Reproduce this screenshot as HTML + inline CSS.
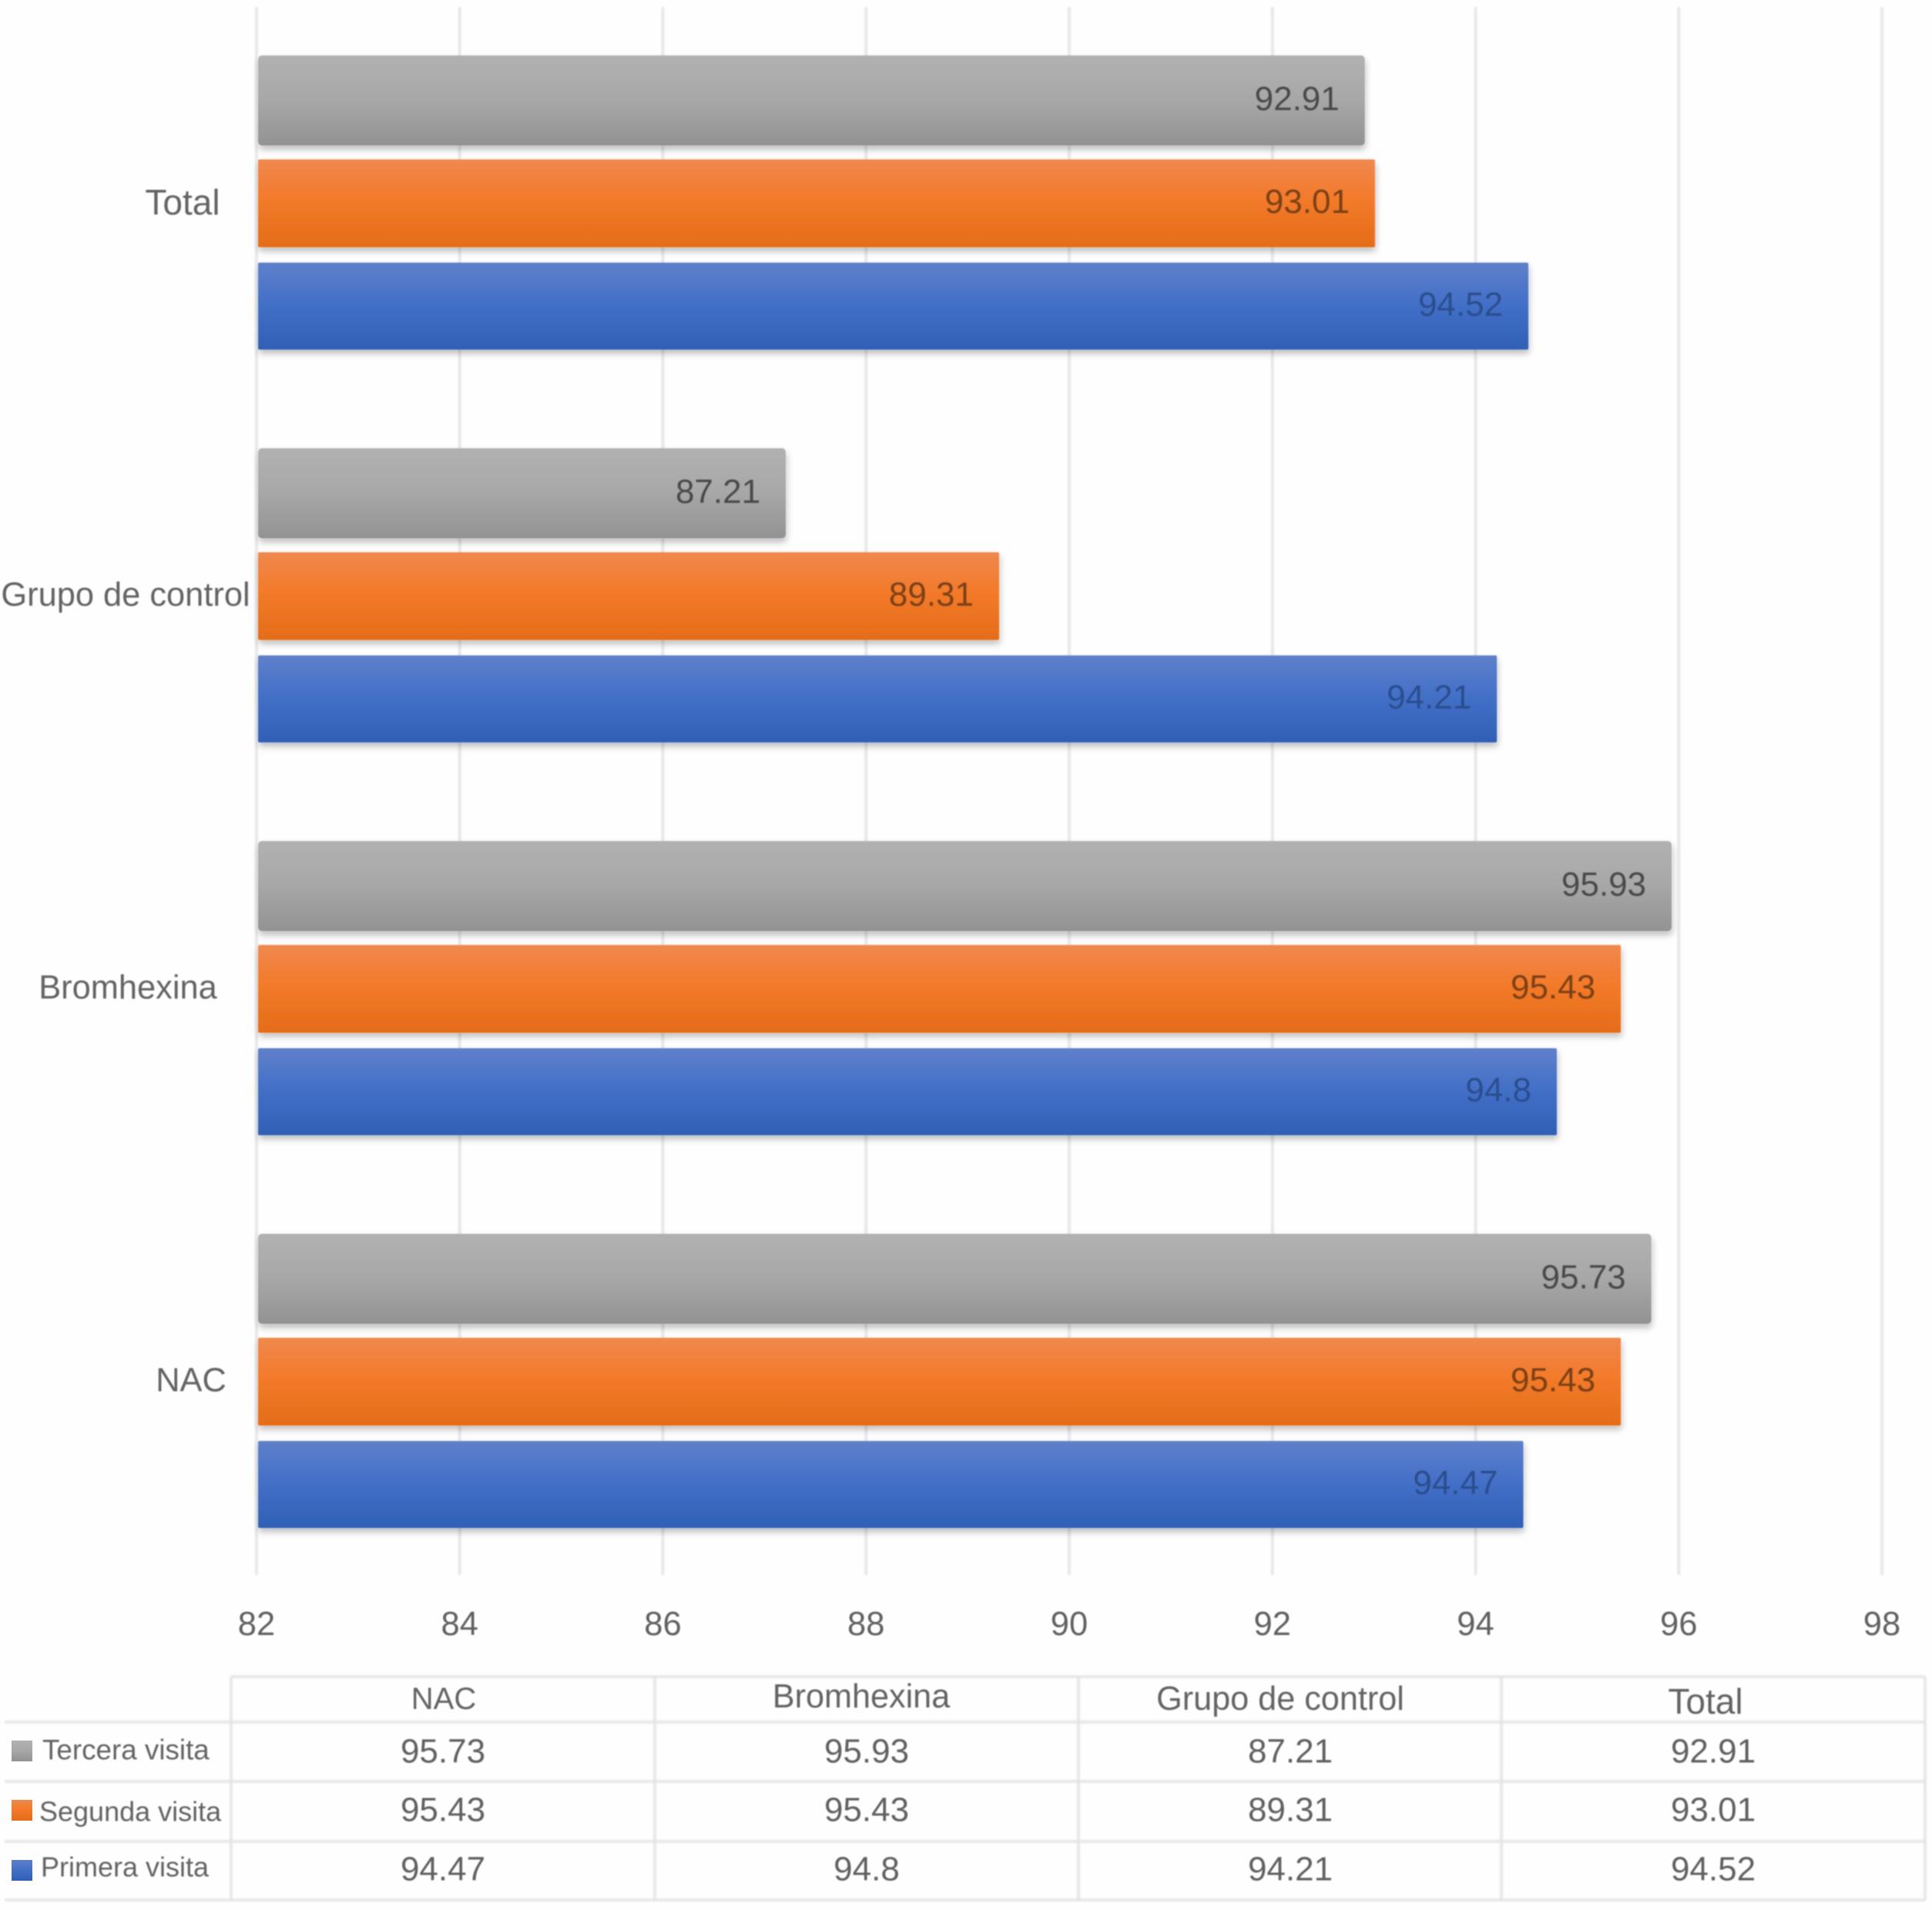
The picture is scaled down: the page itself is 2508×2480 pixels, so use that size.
<!DOCTYPE html>
<html lang="es">
<head>
<meta charset="utf-8">
<title>Visitas por grupo</title>
<style>
html,body{margin:0;padding:0;background:#fefefe;}
svg{display:block;font-family:"Liberation Sans",sans-serif;}
</style>
</head>
<body>
<svg id="chart" xmlns="http://www.w3.org/2000/svg" width="2508" height="2480" viewBox="0 0 2508 2480">
<defs>
<linearGradient id="grad-gray" x1="0" y1="0" x2="0" y2="1"><stop offset="0" stop-color="#b1b1b1"/><stop offset="0.5" stop-color="#a7a7a7"/><stop offset="1" stop-color="#929292"/></linearGradient>
<linearGradient id="grad-orange" x1="0" y1="0" x2="0" y2="1"><stop offset="0" stop-color="#f0884e"/><stop offset="0.45" stop-color="#f37a2a"/><stop offset="1" stop-color="#e46c18"/></linearGradient>
<linearGradient id="grad-blue" x1="0" y1="0" x2="0" y2="1"><stop offset="0" stop-color="#5f80ca"/><stop offset="0.45" stop-color="#4470c8"/><stop offset="1" stop-color="#2f60b5"/></linearGradient>
<filter id="soft" x="-2%" y="-2%" width="104%" height="104%"><feGaussianBlur stdDeviation="0.9"/></filter>
<filter id="grid-soft" filterUnits="userSpaceOnUse" x="0" y="0" width="2508" height="2480"><feGaussianBlur stdDeviation="1.3"/></filter>
<filter id="bar-shadow" x="-2%" y="-15%" width="104%" height="135%">
<feGaussianBlur in="SourceAlpha" stdDeviation="4.5" result="shadowBlur"/>
<feOffset in="shadowBlur" dx="1" dy="5" result="shadowMove"/>
<feComponentTransfer in="shadowMove" result="shadowFaint"><feFuncA type="linear" slope="0.26"/></feComponentTransfer>
<feGaussianBlur in="SourceGraphic" stdDeviation="0.8" result="barSoft"/>
<feMerge><feMergeNode in="shadowFaint"/><feMergeNode in="barSoft"/></feMerge>
</filter>
</defs>
<rect width="2508" height="2480" fill="#fefefe"/>
<g id="grid" filter="url(#grid-soft)"></g>
<g id="bars"></g>
<g id="table" filter="url(#grid-soft)"></g>
<g id="labels" filter="url(#soft)"></g>
</svg>
<script>
var categories = ["NAC", "Bromhexina", "Grupo de control", "Total"];
var seriesNames = ["Tercera visita", "Segunda visita", "Primera visita"];
var terceraValues = [95.73, 95.93, 87.21, 92.91];
var segundaValues = [95.43, 95.43, 89.31, 93.01];
var primeraValues = [94.47, 94.8, 94.21, 94.52];
var xTicks = [82, 84, 86, 88, 90, 92, 94, 96, 98];

var NS = "http://www.w3.org/2000/svg";
var seriesValues = [terceraValues, segundaValues, primeraValues];
var seriesKeys = ["tercera", "segunda", "primera"];
var barFills = ["url(#grad-gray)", "url(#grad-orange)", "url(#grad-blue)"];
var labelInks = ["#4a4a4a", "#7b3f14", "#2b4e8e"];
var barTops = [72, 207, 341];
var barHeights = [117, 114, 113];
var legendFills = barFills;
var gridLayer = document.getElementById("grid");
var barLayer = document.getElementById("bars");
var labelLayer = document.getElementById("labels");
var tableLayer = document.getElementById("table");

function xScale(v) { return 333 + (v - 82) * (2110 / 16); }
function groupOffset(catIndex) { return (categories.length - 1 - catIndex) * 510; }
function make(tag, parent) {
  var el = document.createElementNS(NS, tag);
  parent.appendChild(el);
  return el;
}
function setAttrs(el, props) {
  for (var k in props) { el.setAttribute(k, props[k]); }
}
function makeText(parent, str, x, y, size, fill, anchor) {
  var t = make("text", parent);
  setAttrs(t, {x: x, y: y, "font-size": size, fill: fill, "text-anchor": anchor || "middle", "dominant-baseline": "central"});
  t.textContent = str;
  return t;
}
function hLine(parent, x1, x2, y) {
  var l = make("line", parent);
  setAttrs(l, {x1: x1, x2: x2, y1: y, y2: y, stroke: "#e4e4e4", "stroke-width": 3.5});
  return l;
}
function vLine(parent, x, y1, y2) {
  var l = make("line", parent);
  setAttrs(l, {x1: x, x2: x, y1: y1, y2: y2, stroke: "#e4e4e4", "stroke-width": 3.5});
  return l;
}

/* gridlines and axis ticks */
xTicks.forEach(function (tick) {
  var g = vLine(gridLayer, xScale(tick), 9, 2045);
  g.setAttribute("stroke", "#e4e4e6");
  
  
  var t = makeText(labelLayer, String(tick), xScale(tick), 2109, 43.5, "#606060");
  
  
});

/* bars and value labels */
categories.forEach(function (cat, c) {
  seriesValues.forEach(function (vals, s) {
    var y = barTops[s] + groupOffset(c);
    var h = barHeights[s];
    var r = make("rect", barLayer);
    setAttrs(r, {x: 335, y: y, width: xScale(vals[c]) - 335, height: h, rx: s === 0 ? 5 : 2, fill: barFills[s], filter: "url(#bar-shadow)"});
    
    
    var lb = makeText(labelLayer, String(vals[c]), xScale(vals[c]) - 33, y + h / 2 - 2, 44, labelInks[s], "end");
    
    
  });
});

/* category axis labels */
var categoryLabelCenters = [248, 166, 163, 237];
var categoryLabelMiddle = 262.5;
var categoryLabelSizes = [43.4, 43.4, 43.4, 46];
categories.forEach(function (cat, c) {
  var t = makeText(labelLayer, cat, categoryLabelCenters[c], categoryLabelMiddle + groupOffset(c), categoryLabelSizes[c], "#636363");
  
  
});

/* data table grid */
var rowLines = [2236, 2313, 2391, 2467];
var colLines = [300, 850, 1400, 1949, 2499];
var top1 = hLine(tableLayer, 300, 2499, 2177);


rowLines.forEach(function (y, i) {
  var l = hLine(tableLayer, 6, 2499, y);
  
  
});
colLines.forEach(function (x, i) {
  var l = vLine(tableLayer, x, 2177, 2467);
  
  
});

/* table headers */
var headerCenters = [576, 1118, 1662, 2214];
var headerMiddles = [2206, 2203, 2206, 2209];
var headerSizes = [40, 43.2, 43.2, 46];
categories.forEach(function (cat, c) {
  var t = makeText(labelLayer, cat, headerCenters[c], headerMiddles[c], headerSizes[c], "#636363");
  
  
});

/* table values */
var cellCenters = [575, 1125, 1675, 2224];
var cellMiddles = [2274, 2350, 2427];
seriesValues.forEach(function (vals, s) {
  vals.forEach(function (v, c) {
    var t = makeText(labelLayer, String(v), cellCenters[c], cellMiddles[s], 44, "#606060");
    
    
  });
});

/* legend keys */
var legendTextX = [55, 51, 53];
var legendTextY = [2272, 2352, 2424];
var legendTextSizes = [36.8, 36, 36];
var swatchTops = [2260, 2337, 2415];
seriesNames.forEach(function (name, s) {
  var sw = make("rect", barLayer);
  setAttrs(sw, {x: 15, y: swatchTops[s], width: 27, height: 27, fill: legendFills[s]});
  
  
  var t = makeText(labelLayer, name, legendTextX[s], legendTextY[s], legendTextSizes[s], "#636363", "start");
  
  
});
</script>
</body>
</html>
